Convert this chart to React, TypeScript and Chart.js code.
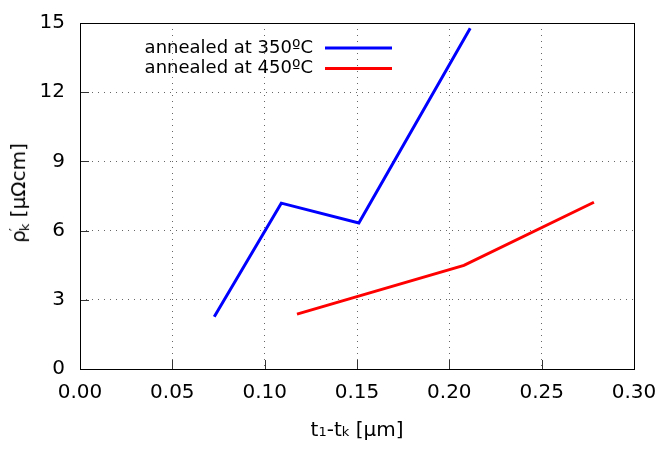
import { useEffect, useRef } from "react"
import { Chart, registerables } from "chart.js"

Chart.register(...registerables)

// values
const seriesLabels = ["annealed at 350ºC", "annealed at 450ºC"]
const seriesColors = ["#0000ff", "#ff0000"]
const thickness350 = [0.0727, 0.109, 0.151, 0.2113]
const rho350 = [2.27, 7.19, 6.33, 14.77]
const thickness450 = [0.1175, 0.2079, 0.2783]
const rho450 = [2.38, 4.49, 7.23]
const xTicks = [0, 0.05, 0.1, 0.15, 0.2, 0.25, 0.3]
const yTicks = [0, 3, 6, 9, 12, 15]

const FONT = "'DejaVu Sans', sans-serif"

// gnuplot-like box, inner ticks and a key in the upper left
const framePlugin = {
  id: "frame",
  afterDatasetsDraw(chart: any) {
    const { ctx, chartArea, scales } = chart
    const { left, right, top, bottom } = chartArea
    ctx.save()
    ctx.strokeStyle = "#333"
    ctx.lineWidth = 1
    ctx.beginPath()
    xTicks.forEach((t) => {
      const x = Math.round(scales.x.getPixelForValue(t)) + 0.5
      ctx.moveTo(x, bottom)
      ctx.lineTo(x, bottom - 9)
    })
    yTicks.forEach((t) => {
      const y = Math.round(scales.y.getPixelForValue(t)) + 0.5
      ctx.moveTo(left, y)
      ctx.lineTo(left + 9, y)
    })
    ctx.stroke()

    ctx.strokeStyle = "#000"
    ctx.strokeRect(Math.round(left) + 0.5, Math.round(top) + 0.5, Math.round(right - left), Math.round(bottom - top))

    // key
    ctx.font = "18px " + FONT
    ctx.textAlign = "right"
    ctx.textBaseline = "middle"
    chart.data.datasets.forEach((ds: any, i: number) => {
      const y = 48 + i * 20.5
      ctx.fillStyle = "#000"
      ctx.fillText(ds.label, 313, y)
      ctx.strokeStyle = ds.borderColor
      ctx.lineWidth = 3
      ctx.beginPath()
      ctx.moveTo(325, y)
      ctx.lineTo(392, y)
      ctx.stroke()
    })
    ctx.restore()
  },
}

export default function App() {
  const chartRef = useRef<HTMLCanvasElement>(null)
  const chartInstance = useRef<Chart | null>(null)

  useEffect(() => {
    document.body.style.margin = "0"
    if (!chartRef.current) return
    if (chartInstance.current) chartInstance.current.destroy()

    const ctx = chartRef.current.getContext("2d")
    if (!ctx) return

    chartInstance.current = new Chart(ctx, {
      type: "line",
      data: {
        datasets: [
          {
            label: seriesLabels[0],
            data: thickness350.map((x, i) => ({ x, y: rho350[i] })),
            borderColor: seriesColors[0],
            borderWidth: 3,
            pointRadius: 0,
            fill: false,
          },
          {
            label: seriesLabels[1],
            data: thickness450.map((x, i) => ({ x, y: rho450[i] })),
            borderColor: seriesColors[1],
            borderWidth: 3,
            pointRadius: 0,
            fill: false,
          },
        ],
      },
      options: {
        animation: false,
        responsive: true,
        maintainAspectRatio: false,
        layout: { padding: { top: 23, right: 33, left: 0, bottom: 0 } },
        plugins: {
          legend: { display: false },
          tooltip: { enabled: false },
        },
        scales: {
          x: {
            type: "linear",
            min: 0,
            max: 0.3,
            afterFit: (scale: any) => {
              scale.height = 83
              scale.paddingLeft = 0
              scale.paddingRight = 0
            },
            afterBuildTicks: (scale: any) => {
              scale.ticks = xTicks.map((v) => ({ value: v }))
            },
            ticks: {
              padding: 12,
              color: "#000",
              font: { family: FONT, size: 20 },
              callback: (v: any) => Number(v).toFixed(2),
              maxRotation: 0,
              autoSkip: false,
            },
            grid: { color: "#666", lineWidth: 1, drawTicks: false },
            border: { display: false, dash: [1, 5] },
          },
          y: {
            min: 0,
            max: 15,
            afterFit: (scale: any) => {
              scale.width = 80
              scale.paddingTop = 0
              scale.paddingBottom = 0
            },
            afterBuildTicks: (scale: any) => {
              scale.ticks = yTicks.map((v) => ({ value: v }))
            },
            ticks: {
              padding: 15,
              color: "#000",
              font: { family: FONT, size: 20 },
              autoSkip: false,
            },
            grid: { color: "#666", lineWidth: 1, drawTicks: false },
            border: { display: false, dash: [1, 5] },
          },
        },
      },
      plugins: [framePlugin],
    })

    return () => {
      if (chartInstance.current) {
        chartInstance.current.destroy()
        chartInstance.current = null
      }
    }
  }, [])

  const sub = { fontSize: 13 }

  return (
    <div style={{ position: "relative", width: 667, height: 452, fontFamily: FONT, background: "#fff" }}>
      <canvas ref={chartRef} />
      <div
        style={{
          position: "absolute",
          left: 357,
          top: 429,
          transform: "translate(-50%, -50%)",
          fontSize: 20,
          whiteSpace: "nowrap",
          color: "#000",
          lineHeight: 1,
        }}
      >
        t<span style={sub}>1</span>-t<span style={sub}>k</span> [μm]
      </div>
      <div
        style={{
          position: "absolute",
          left: 19,
          top: 193,
          transform: "translate(-50%, -50%) rotate(-90deg)",
          fontSize: 20,
          whiteSpace: "nowrap",
          color: "#000",
          lineHeight: 1,
        }}
      >
        ρ
        <span
          style={{
            display: "inline-flex",
            flexDirection: "column",
            verticalAlign: "middle",
            fontSize: 13,
            lineHeight: 0.8,
            marginLeft: -1,
          }}
        >
          <span>′</span>
          <span>k</span>
        </span>{" "}
        [μΩcm]
      </div>
    </div>
  )
}
